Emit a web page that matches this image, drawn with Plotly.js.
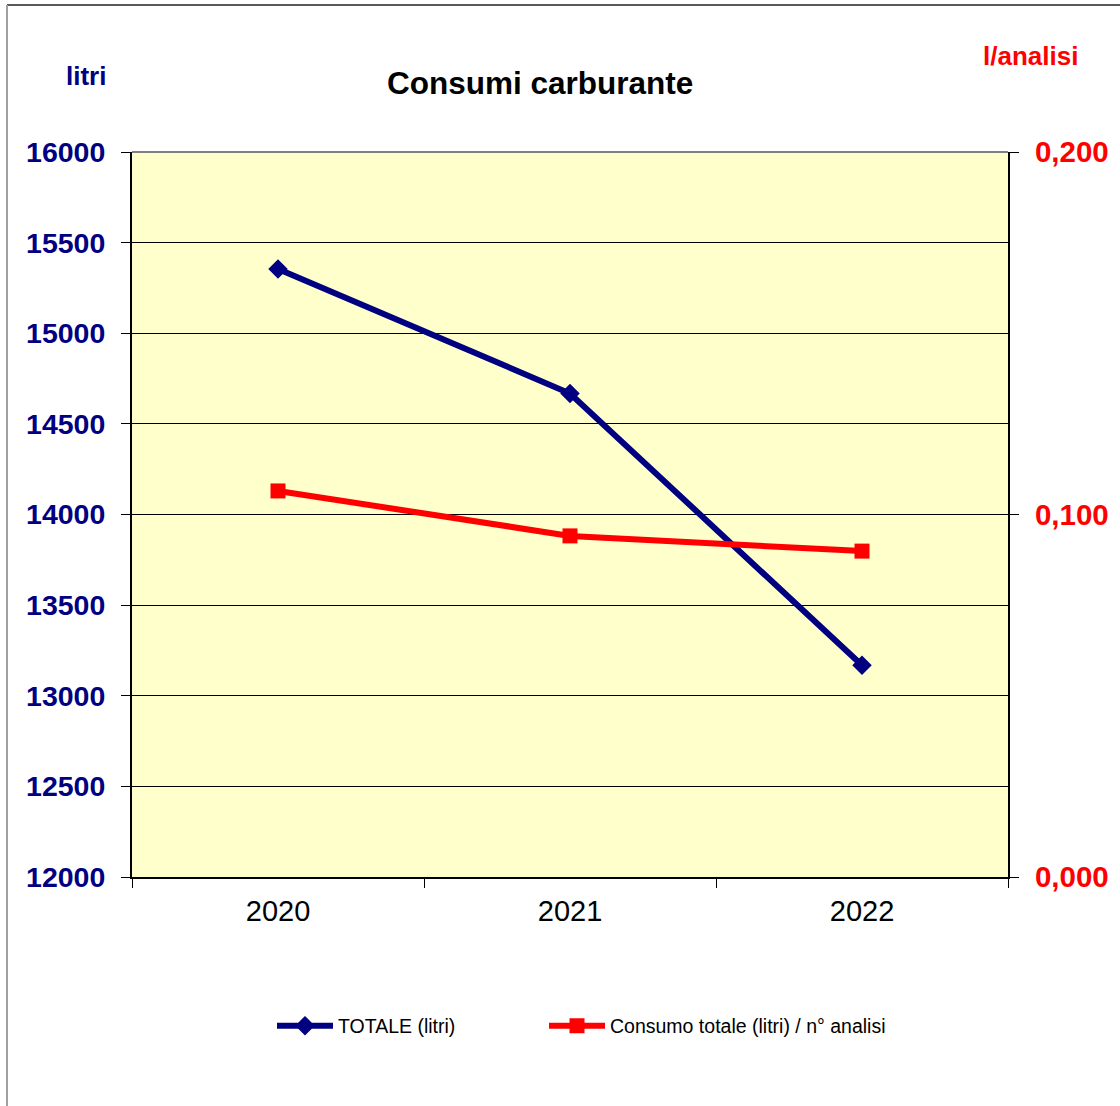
<!DOCTYPE html>
<html>
<head>
<meta charset="utf-8">
<script src="https://cdn.plot.ly/plotly-3.0.1.min.js"></script>
<style>html,body{margin:0;padding:0;background:#fff;}#chart{width:1120px;height:1106px;}</style>
</head>
<body>
<div id="chart"></div>
<script>
const years = ["2020", "2021", "2022"];
const totaleLitri = [15355, 14668, 13168];
const litriPerAnalisi = [0.1065, 0.0941, 0.0899];
const leftTicks = [12000, 12500, 13000, 13500, 14000, 14500, 15000, 15500, 16000];
const rightTickVals = [0, 0.1, 0.2];
const rightTickText = ["0,000", "0,100", "0,200"];

const FONT = "'Liberation Sans', Arial, sans-serif";
const L = 132, R = 1008, T = 152, B = 877;
const pw = R - L, ph = B - T;
const px = x => (x - L) / pw;
const py = y => (B - y) / ph;

const traces = [
  {
    x: years, y: totaleLitri, name: "TOTALE (litri)", type: "scatter", mode: "lines+markers",
    line: {color: "#000080", width: 6}, marker: {symbol: "diamond", size: 15, color: "#000080"},
    yaxis: "y", legend: "legend"
  },
  {
    x: years, y: litriPerAnalisi, name: "Consumo totale (litri) / n° analisi", type: "scatter", mode: "lines+markers",
    line: {color: "#FF0000", width: 6}, marker: {symbol: "square", size: 15, color: "#FF0000"},
    yaxis: "y2", legend: "legend2"
  }
];

const legendBase = {
  orientation: "h", xanchor: "left", y: py(1026), yanchor: "middle",
  font: {family: FONT, size: 19.5, color: "#000"}, itemwidth: 56,
  bgcolor: "rgba(0,0,0,0)"
};

const layout = {
  width: 1120, height: 1106,
  margin: {l: L, r: 1120 - R, t: T, b: 1106 - B},
  paper_bgcolor: "#FFFFFF", plot_bgcolor: "#FFFFCC",
  font: {family: FONT, color: "#000"},
  showlegend: true,
  legend: Object.assign({}, legendBase, {x: px(272)}),
  legend2: Object.assign({}, legendBase, {x: px(544)}),
  xaxis: {
    type: "category", range: [-0.5, 2.5], tickson: "boundaries",
    ticks: "outside", ticklen: 9, tickcolor: "#000", tickwidth: 1,
    showline: true, linecolor: "#000", linewidth: 1.5, showgrid: false, zeroline: false,
    ticklabelstandoff: 8,
    tickfont: {family: FONT, size: 29, color: "#000"}
  },
  yaxis: {
    range: [12000, 16000], tickvals: leftTicks, ticktext: leftTicks.map(String),
    ticks: "outside", ticklen: 9, tickcolor: "#000", tickwidth: 1,
    showline: true, linecolor: "#000", linewidth: 2, showgrid: true, gridcolor: "#000", gridwidth: 1,
    zeroline: false, ticklabelstandoff: 10,
    tickfont: {family: FONT, size: 28.5, color: "#000080", weight: "bold"}
  },
  yaxis2: {
    overlaying: "y", side: "right", range: [0, 0.2], tickvals: rightTickVals, ticktext: rightTickText,
    ticks: "outside", ticklen: 9, tickcolor: "#000", tickwidth: 1,
    showline: true, linecolor: "#000", linewidth: 2, showgrid: false, zeroline: false,
    ticklabelstandoff: 10,
    tickfont: {family: FONT, size: 29.5, color: "#FF0000", weight: "bold"}
  },
  annotations: [
    {text: "Consumi carburante", xref: "paper", yref: "paper", x: px(540), y: py(83), xanchor: "center", yanchor: "middle",
     showarrow: false, font: {family: FONT, size: 31.5, color: "#000", weight: "bold"}},
    {text: "litri", xref: "paper", yref: "paper", x: px(86), y: py(76), xanchor: "center", yanchor: "middle",
     showarrow: false, font: {family: FONT, size: 26, color: "#000080", weight: "bold"}},
    {text: "l/analisi", xref: "paper", yref: "paper", x: px(1030), y: py(56), xanchor: "center", yanchor: "middle",
     showarrow: false, font: {family: FONT, size: 26, color: "#FF0000", weight: "bold"}}
  ],
  shapes: [
    {type: "line", xref: "paper", yref: "paper", x0: 0, x1: 1, y0: 1, y1: 1, line: {color: "#808080", width: 2}, layer: "above"},
    {type: "line", xref: "paper", yref: "paper", x0: px(7), x1: px(1125), y0: py(5), y1: py(5), line: {color: "#222", width: 1.5}},
    {type: "line", xref: "paper", yref: "paper", x0: px(7), x1: px(7), y0: py(5), y1: py(1110), line: {color: "#A0A0A0", width: 2}}
  ]
};

Plotly.newPlot("chart", traces, layout, {displayModeBar: false, staticPlot: true});
</script>
</body>
</html>
